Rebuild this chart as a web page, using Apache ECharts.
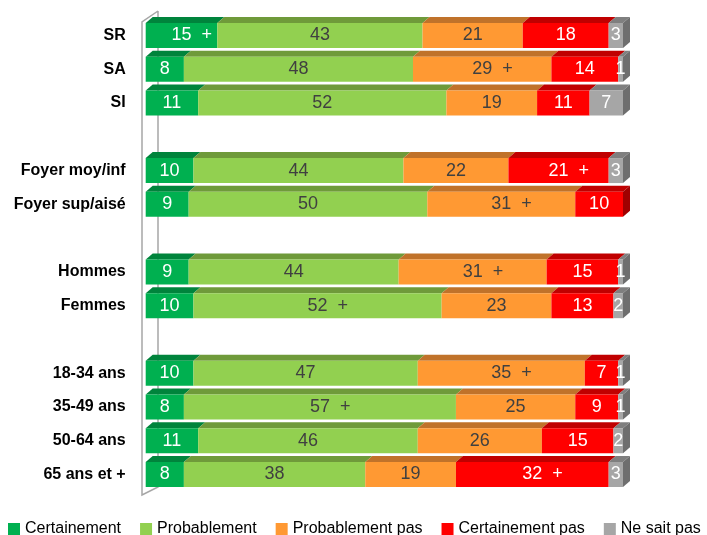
<!DOCTYPE html>
<html lang="fr">
<head>
<meta charset="UTF-8">
<title>chart</title>
<script src="https://cdn.jsdelivr.net/npm/echarts@6/dist/echarts.min.js"></script>
<style>
html,body{margin:0;height:100%;background:#fff}
#app{width:707px;height:535px}
</style>
</head>
<body>
<div id="app"></div>
<script>
// categories (blank entries are the spacing rows)
var categories = ['SR', 'SA', 'SI', ' ', 'Foyer moy/inf', 'Foyer sup/aisé', '  ', 'Hommes', 'Femmes', '   ', '18-34 ans', '35-49 ans', '50-64 ans', '65 ans et +'];
var certainement    = [15,  8, 11, null, 10,  9, null,  9, 10, null, 10,  8, 11,  8];
var probablement    = [43, 48, 52, null, 44, 50, null, 44, 52, null, 47, 57, 46, 38];
var probablementPas = [21, 29, 19, null, 22, 31, null, 31, 23, null, 35, 25, 26, 19];
var certainementPas = [18, 14, 11, null, 21, 10, null, 15, 13, null,  7,  9, 15, 32];
var neSaitPas       = [ 3,  1,  7, null,  3,  0, null,  1,  2, null,  1,  1,  2,  3];
// 1 = a "+" is shown after the value
var plusCertainement    = [1, 0, 0, 0, 0, 0, 0, 0, 0, 0, 0, 0, 0, 0];
var plusProbablement    = [0, 0, 0, 0, 0, 0, 0, 0, 1, 0, 0, 1, 0, 0];
var plusProbablementPas = [0, 1, 0, 0, 0, 1, 0, 1, 0, 0, 1, 0, 0, 0];
var plusCertainementPas = [0, 0, 0, 0, 1, 0, 0, 0, 0, 0, 0, 0, 0, 1];
var plusNeSaitPas       = [0, 0, 0, 0, 0, 0, 0, 0, 0, 0, 0, 0, 0, 0];

var names = ['Certainement', 'Probablement', 'Probablement pas', 'Certainement pas', 'Ne sait pas'];
var values = [certainement, probablement, probablementPas, certainementPas, neSaitPas];
var plus = [plusCertainement, plusProbablement, plusProbablementPas, plusCertainementPas, plusNeSaitPas];
var frontColors = ['#00B050', '#92D050', '#FF9933', '#FF0000', '#A6A6A6'];
var topColors   = ['#00843C', '#6F9A3A', '#C0722A', '#C00000', '#7F7F7F'];
var sideColors  = ['#006B30', '#5E8530', '#A85F20', '#A00000', '#6E6E6E'];
var labelColors = ['#fff', '#404040', '#404040', '#fff', '#fff'];

var BAR_H = 25, DX = 7, DY = 6;
var FONT = "'Liberation Sans', Arial, sans-serif";

var series = [];
values.forEach(function (vals, s) {
    series.push({
        name: names[s],
        type: 'bar',
        stack: 'total',
        barWidth: BAR_H,
        data: vals,
        itemStyle: {color: frontColors[s]},
        label: {
            show: true,
            position: 'inside',
            color: labelColors[s],
            fontFamily: FONT,
            fontSize: 18,
            formatter: function (p) {
                if (!p.value) return '';
                if (plus[s][p.dataIndex]) return '{h|  +}' + p.value + '  +';
                return String(p.value);
            },
            rich: {
                h: {color: 'rgba(0,0,0,0)', fontFamily: FONT, fontSize: 18}
            }
        }
    });
});

// top faces and right side of each stacked bar (3D look)
var faces = [];
categories.forEach(function (c, i) {
    if (certainement[i] == null) return;
    var start = 0, lastSeg = 0;
    values.forEach(function (vals, s) { if (vals[i] > 0) lastSeg = s; });
    values.forEach(function (vals, s) {
        var v = vals[i];
        if (!v) return;
        faces.push([i, start, start + v, s, s === lastSeg ? 1 : 0]);
        start += v;
    });
});

series.push({
    type: 'custom',
    silent: true,
    data: faces,
    encode: {x: [1, 2], y: 0},
    renderItem: function (params, api) {
        var cat = api.value(0), s = api.value(3);
        var a = api.coord([api.value(1), cat]);
        var b = api.coord([api.value(2), cat]);
        var top = a[1] - BAR_H / 2, bot = a[1] + BAR_H / 2;
        var children = [{
            type: 'polygon',
            shape: {points: [[a[0], top], [b[0], top], [b[0] + DX, top - DY], [a[0] + DX, top - DY]]},
            style: {fill: topColors[s]}
        }];
        if (api.value(4)) {
            children.push({
                type: 'polygon',
                shape: {points: [[b[0], top], [b[0] + DX, top - DY], [b[0] + DX, bot - DY], [b[0], bot]]},
                style: {fill: sideColors[s]}
            });
        }
        return {type: 'group', children: children};
    }
});

var option = {
    animation: false,
    grid: {left: 145.7, right: 84, top: 18.6, bottom: 43.6, containLabel: false},
    xAxis: {type: 'value', min: 0, max: 100, show: false},
    yAxis: {
        type: 'category',
        inverse: true,
        data: categories,
        axisLine: {show: false},
        axisTick: {show: false},
        axisLabel: {
            margin: 20,
            color: '#000',
            fontWeight: 'bold',
            fontSize: 16,
            fontFamily: FONT
        }
    },
    legend: {
        data: names,
        left: 8,
        top: 521,
        padding: 0,
        icon: 'rect',
        itemWidth: 12,
        itemHeight: 12,
        itemGap: 19,
        textStyle: {color: '#000', fontSize: 16, fontFamily: FONT}
    },
    graphic: [{
        type: 'polyline',
        z: 0,
        shape: {points: [[158, 11], [142, 22], [142, 495], [158, 487], [158, 11]]},
        style: {stroke: '#A6A6A6', lineWidth: 1.5, fill: null}
    }],
    series: series
};

var myChart = echarts.init(document.getElementById('app'));
myChart.setOption(option);
</script>
</body>
</html>
